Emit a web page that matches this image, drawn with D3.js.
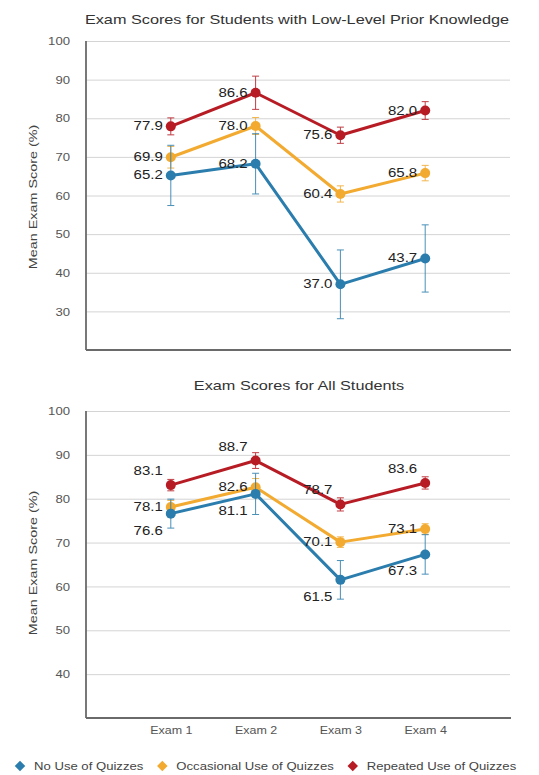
<!DOCTYPE html>
<html>
<head>
<meta charset="utf-8">
<script src="https://cdn.jsdelivr.net/npm/d3@7"></script>
<style>
  body { margin: 0; background: #fff; }
  text { font-family: "Liberation Sans", Arial, Helvetica, sans-serif; }
</style>
</head>
<body>
<svg id="chart" width="539" height="775"></svg>
<script>
// ---- data ----
const exams = ["Exam 1", "Exam 2", "Exam 3", "Exam 4"];
const seriesNames = ["No Use of Quizzes", "Occasional Use of Quizzes", "Repeated Use of Quizzes"];

// Students with low-level prior knowledge
const lowNoUse = [65.2, 68.2, 37.0, 43.7];
const lowOccasional = [69.9, 78.0, 60.4, 65.8];
const lowRepeated = [77.9, 86.6, 75.6, 82.0];
const lowNoUseErr = [7.8, 7.8, 8.9, 8.7];
const lowOccasionalErr = [2.8, 2.2, 2.1, 2.0];
const lowRepeatedErr = [2.2, 4.3, 2.1, 2.3];

// All students
const allNoUse = [76.6, 81.1, 61.5, 67.3];
const allOccasional = [78.1, 82.6, 70.1, 73.1];
const allRepeated = [83.1, 88.7, 78.7, 83.6];
const allNoUseErr = [3.3, 4.7, 4.4, 4.5];
const allOccasionalErr = [1.5, 2.0, 1.2, 1.2];
const allRepeatedErr = [1.3, 1.8, 1.5, 1.4];

const lowTicks = [30, 40, 50, 60, 70, 80, 90, 100];
const allTicks = [40, 50, 60, 70, 80, 90, 100];

// ---- styling ----
const colors = ["#2b7dad", "#f2aa30", "#b71c25"];
const SX = 1.25;               // horizontal glyph stretch used for all text
const svg = d3.select("#chart");

function stretched(sel, x, y, rot) {
  return sel.attr("x", 0).attr("y", 0)
    .attr("transform", `translate(${x},${y}) rotate(${rot || 0}) scale(${SX},1)`);
}

const panels = [
  {
    title: "Exam Scores for Students with Low-Level Prior Knowledge",
    titleY: 19.5, titleX: 297,
    values: [lowNoUse, lowOccasional, lowRepeated],
    errors: [lowNoUseErr, lowOccasionalErr, lowRepeatedErr],
    domain: [20, 100], top: 41, bottom: 350,
    ticks: lowTicks, showX: false,
    labelDy: [0, 0, 0],
    axisTitleY: 197
  },
  {
    title: "Exam Scores for All Students",
    titleY: 386, titleX: 299,
    values: [allNoUse, allOccasional, allRepeated],
    errors: [allNoUseErr, allOccasionalErr, allRepeatedErr],
    domain: [30, 100], top: 411, bottom: 718,
    ticks: allTicks, showX: true,
    labelDy: [17, 0, -14],
    axisTitleY: 563
  }
];

const left = 86, right = 510;

panels.forEach(p => {
  const g = svg.append("g");
  const x = d3.scalePoint().domain(exams).range([left, right]).padding(1);
  const y = d3.scaleLinear().domain(p.domain).range([p.bottom, p.top]);

  // title
  stretched(g.append("text"), p.titleX, p.titleY)
    .attr("text-anchor", "middle").attr("dominant-baseline", "central")
    .attr("font-size", 13).attr("fill", "#333").text(p.title);

  // y axis with gridlines
  const ya = g.append("g").attr("transform", `translate(${left},0)`)
    .call(d3.axisLeft(y).tickValues(p.ticks).tickSize(-(right - left)).tickFormat(d3.format("d")));
  ya.select(".domain").remove();
  ya.selectAll(".tick line").attr("stroke", "#d4d4d4").attr("stroke-width", 1);
  ya.selectAll(".tick text").each(function () {
    stretched(d3.select(this), -16, 0)
      .attr("dy", "0.35em").attr("text-anchor", "end")
      .attr("font-size", 10.5).attr("fill", "#555");
  });

  // y axis title
  stretched(g.append("text"), 33, p.axisTitleY, -90)
    .attr("text-anchor", "middle").attr("dominant-baseline", "central")
    .attr("font-size", 11.5).attr("fill", "#444").text("Mean Exam Score (%)");

  // axis lines
  g.append("line").attr("x1", left).attr("x2", left)
    .attr("y1", y(100)).attr("y2", y(p.domain[0]))
    .attr("stroke", "#6a6a6a").attr("stroke-width", 1.8);

  const xa = g.append("g").attr("transform", `translate(0,${y(p.domain[0])})`)
    .call(d3.axisBottom(x).tickSize(0).tickSizeOuter(0));
  xa.select(".domain").attr("d", `M${left},0H${right + 1}`)
    .attr("stroke", "#6a6a6a").attr("stroke-width", 2);
  if (p.showX) {
    xa.selectAll(".tick text").each(function () {
      stretched(d3.select(this), 0, 12)
        .attr("dy", "0.35em").attr("text-anchor", "middle")
        .attr("font-size", 10).attr("fill", "#555");
    });
  } else {
    xa.selectAll(".tick text").remove();
  }

  const line = d3.line().x((d, i) => x(exams[i])).y(d => y(d));
  const order = [2, 1, 0];

  // lines
  order.forEach(s => {
    g.append("path").datum(p.values[s]).attr("d", line)
      .attr("fill", "none").attr("stroke", colors[s])
      .attr("stroke-width", 3).attr("stroke-linejoin", "round");
  });

  // value labels
  order.forEach(s => {
    p.values[s].forEach((v, i) => {
      stretched(g.append("text"), x(exams[i]) - 8, y(v) + p.labelDy[s])
        .attr("text-anchor", "end").attr("dominant-baseline", "central")
        .attr("font-size", 12).attr("fill", "#222").text(v.toFixed(1));
    });
  });

  // error bars and markers
  order.forEach(s => {
    const c = colors[s];
    p.values[s].forEach((v, i) => {
      const cx = x(exams[i]);
      const e = p.errors[s][i];
      const eg = g.append("g").attr("stroke", c).attr("stroke-width", 1).attr("opacity", 0.85);
      eg.append("line").attr("x1", cx).attr("x2", cx).attr("y1", y(v - e)).attr("y2", y(v + e));
      eg.append("line").attr("x1", cx - 3.5).attr("x2", cx + 3.5).attr("y1", y(v + e)).attr("y2", y(v + e));
      eg.append("line").attr("x1", cx - 3.5).attr("x2", cx + 3.5).attr("y1", y(v - e)).attr("y2", y(v - e));
    });
    g.append("g").selectAll("circle").data(p.values[s]).join("circle")
      .attr("cx", (d, i) => x(exams[i])).attr("cy", d => y(d))
      .attr("r", 5).attr("fill", c);
  });
});

// legend
const legend = svg.append("g");
let lx = 20;
seriesNames.forEach((name, s) => {
  const ly = 766;
  legend.append("path")
    .attr("d", d3.symbol(d3.symbolDiamond2, 70)())
    .attr("transform", `translate(${lx},${ly})`)
    .attr("fill", colors[s]);
  const t = stretched(legend.append("text"), lx + 14, ly)
    .attr("dominant-baseline", "central").attr("font-size", 10.5)
    .attr("fill", "#444").text(name);
  const w = t.node().getComputedTextLength() * SX;
  lx = lx + 14 + w + 19;
});
</script>
</body>
</html>
